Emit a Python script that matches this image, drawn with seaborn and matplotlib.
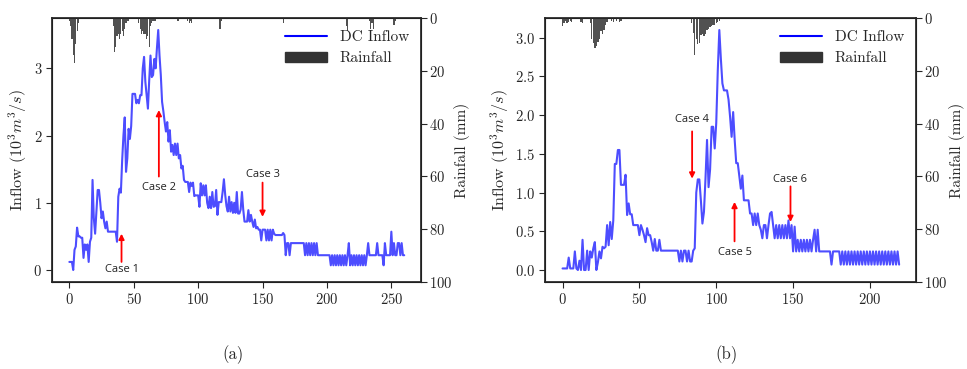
import numpy as np
import pandas as pd
import seaborn as sns
import matplotlib
matplotlib.use("Agg")
import matplotlib.pyplot as plt
from matplotlib.lines import Line2D
from matplotlib.patches import Patch

# ---------------- data ----------------
inflow_a = [
    0.12, 0.12, 0.12, 0.00, 0.30, 0.35, 0.63, 0.50, 0.50, 0.48,
    0.48, 0.18, 0.38, 0.30, 0.38, 0.12, 0.42, 0.48, 1.34, 0.77,
    0.54, 0.87, 1.19, 1.19, 1.00, 0.77, 0.87, 0.72, 0.62, 0.72,
    0.57, 0.57, 0.57, 0.57, 0.57, 0.57, 0.57, 0.42, 1.09, 1.21,
    1.15, 1.63, 2.00, 2.27, 1.46, 1.66, 2.10, 1.95, 2.14, 2.62,
    2.62, 2.62, 2.48, 2.53, 2.48, 2.60, 2.60, 3.00, 3.17, 2.80,
    2.60, 2.40, 2.82, 3.19, 2.87, 2.90, 3.14, 3.00, 3.30, 3.57,
    3.19, 2.90, 2.50, 2.36, 2.20, 2.06, 2.20, 1.91, 2.08, 1.76,
    1.86, 1.71, 1.88, 1.71, 1.88, 1.66, 1.71, 1.51, 1.55, 1.34,
    1.31, 1.31, 1.31, 1.16, 1.30, 1.25, 1.30, 1.10, 1.11, 1.11,
    1.11, 0.94, 1.29, 1.11, 1.26, 1.11, 1.26, 1.00, 0.92, 1.09,
    0.92, 1.16, 0.94, 0.95, 1.19, 0.82, 1.01, 1.01, 1.01, 1.16,
    1.35, 1.12, 0.95, 0.87, 1.09, 0.87, 1.01, 0.85, 1.00, 0.85,
    1.16, 0.84, 0.84, 0.90, 1.16, 0.90, 0.72, 0.72, 0.72, 0.89,
    0.72, 0.82, 0.72, 0.64, 0.75, 0.62, 0.64, 0.60, 0.60, 0.44,
    0.60, 0.60, 0.60, 0.44, 0.60, 0.44, 0.60, 0.44, 0.60, 0.54,
    0.52, 0.52, 0.52, 0.52, 0.52, 0.52, 0.55, 0.52, 0.22, 0.40,
    0.40, 0.22, 0.40, 0.40, 0.40, 0.40, 0.40, 0.40, 0.40, 0.40,
    0.40, 0.40, 0.40, 0.22, 0.40, 0.22, 0.40, 0.22, 0.40, 0.22,
    0.40, 0.22, 0.40, 0.22, 0.22, 0.22, 0.22, 0.22, 0.22, 0.22,
    0.22, 0.22, 0.22, 0.07, 0.22, 0.07, 0.22, 0.07, 0.22, 0.07,
    0.22, 0.07, 0.22, 0.07, 0.22, 0.07, 0.22, 0.40, 0.07, 0.22,
    0.07, 0.22, 0.07, 0.22, 0.07, 0.22, 0.07, 0.22, 0.07, 0.22,
    0.07, 0.22, 0.40, 0.22, 0.22, 0.22, 0.22, 0.22, 0.22, 0.40,
    0.22, 0.22, 0.22, 0.22, 0.07, 0.40, 0.22, 0.22, 0.22, 0.22,
    0.57, 0.22, 0.40, 0.22, 0.22, 0.40, 0.40, 0.22, 0.40, 0.22, 0.22,
]

inflow_b = [
    0.02, 0.02, 0.02, 0.02, 0.16, 0.02, 0.02, 0.02, 0.24, 0.02,
    0.00, 0.12, 0.00, 0.39, 0.00, 0.00, 0.25, 0.00, 0.24, 0.16,
    0.28, 0.36, 0.00, 0.10, 0.24, 0.15, 0.30, 0.28, 0.30, 0.58,
    0.32, 0.62, 0.40, 0.64, 1.37, 1.37, 1.55, 1.55, 1.10, 1.10,
    1.10, 1.23, 0.71, 0.86, 0.72, 0.72, 0.58, 0.58, 0.58, 0.58,
    0.45, 0.58, 0.52, 0.45, 0.36, 0.54, 0.45, 0.45, 0.36, 0.25,
    0.40, 0.25, 0.25, 0.39, 0.25, 0.25, 0.25, 0.25, 0.25, 0.25,
    0.25, 0.25, 0.25, 0.25, 0.25, 0.25, 0.11, 0.25, 0.11, 0.25,
    0.25, 0.11, 0.25, 0.11, 0.11, 0.25, 0.28, 1.00, 1.17, 1.17,
    0.90, 0.60, 0.75, 1.18, 1.68, 1.07, 1.30, 1.85, 1.85, 1.57,
    1.90, 2.58, 3.10, 2.73, 2.41, 2.32, 2.32, 2.32, 2.20, 1.98,
    1.72, 2.04, 1.68, 1.38, 1.38, 1.22, 1.05, 1.22, 0.90, 0.90,
    0.90, 0.90, 0.73, 0.73, 0.58, 0.73, 0.58, 0.73, 0.58, 0.52,
    0.41, 0.58, 0.58, 0.41, 0.58, 0.73, 0.75, 0.58, 0.41, 0.58,
    0.41, 0.58, 0.41, 0.58, 0.41, 0.58, 0.41, 0.64, 0.41, 0.58,
    0.24, 0.56, 0.24, 0.39, 0.24, 0.39, 0.24, 0.39, 0.24, 0.39,
    0.24, 0.39, 0.24, 0.39, 0.52, 0.24, 0.52, 0.24, 0.24, 0.24,
    0.24, 0.24, 0.24, 0.24, 0.24, 0.07, 0.24, 0.24, 0.24, 0.24,
    0.24, 0.07, 0.24, 0.07, 0.24, 0.07, 0.24, 0.07, 0.24, 0.07,
    0.24, 0.07, 0.24, 0.07, 0.24, 0.07, 0.24, 0.07, 0.24, 0.07,
    0.24, 0.07, 0.24, 0.07, 0.24, 0.07, 0.24, 0.07, 0.24, 0.07,
    0.24, 0.07, 0.24, 0.07, 0.24, 0.07, 0.24, 0.07, 0.24, 0.07,
]

rain_a_t = [0, 1, 2, 3, 4, 5, 6, 7,
            34, 35, 36, 37, 38, 39, 40, 41, 42, 43, 44, 45, 46,
            54, 55, 56, 57, 58, 59, 60, 61, 62, 63, 64, 65, 66, 67,
            84, 85, 92, 93, 94, 95, 117, 118, 166, 215, 216,
            233, 234, 235, 236, 252, 253]
rain_a_mm = [1, 3, 8, 14, 17, 10, 5, 2,
             3, 13, 11, 7, 6, 8, 6, 5, 7, 4, 2, 1, 1,
             2, 4, 6, 5, 6, 6, 8, 7, 11, 3, 2, 1, 1, 1,
             1, 1, 1, 2, 1, 2, 4, 1, 2, 3, 5,
             1, 4, 2, 4, 2.5, 1]

rain_b_t = [0, 1, 2, 3, 4, 5, 6, 12, 13,
            18, 19, 20, 21, 22, 23, 24, 25, 26, 27, 28, 29,
            32, 33, 35, 37, 38,
            84, 85, 86, 87, 88, 89, 90, 91, 92, 93, 94, 95, 96, 97, 98,
            99, 100, 101, 102]
rain_b_mm = [3, 2, 1, 2, 1.5, 1, 1.5, 1.5, 2,
             2, 8, 9.5, 11.5, 10.5, 9, 8, 5, 6, 4.5, 2.5, 1.5,
             1, 1.5, 1, 1.5, 1,
             2, 5.5, 14, 8, 10, 9.6, 6.5, 6, 7, 6, 4.5, 4, 3.5, 3, 2.5,
             2.5, 2, 1.5, 1]

yticks_a = [0, 1, 2, 3]
yticks_b = [0.0, 0.5, 1.0, 1.5, 2.0, 2.5, 3.0]
rain_ticks = [0, 20, 40, 60, 80, 100]

cases_a = ["Case 1", "Case 2", "Case 3"]
cases_b = ["Case 4", "Case 5", "Case 6"]
# (x, arrow head y, arrow tail y, text y)
case_pos_a = [(40.5, 0.54, 0.12, 0.01), (69.5, 2.38, 1.39, 1.22), (150, 0.79, 1.30, 1.42)]
case_pos_b = [(84.3, 1.18, 1.79, 1.95), (111.9, 0.88, 0.37, 0.22), (148.3, 0.62, 1.08, 1.17)]

# ---------------- style ----------------
sns.set_theme(style="ticks")
plt.rcParams["font.family"] = ["cmr10", "DejaVu Serif"]
plt.rcParams["mathtext.fontset"] = "cm"
plt.rcParams["axes.formatter.use_mathtext"] = True
plt.rcParams["axes.unicode_minus"] = False

fig = plt.figure(figsize=(9.67, 3.69), dpi=100)
ax_a = fig.add_axes([52 / 967, 1 - 282 / 369, (421 - 52) / 967, (282 - 18) / 369])
ax_b = fig.add_axes([545 / 967, 1 - 282 / 369, (916 - 545) / 967, (282 - 18) / 369])

line_color = "#4d4dff"
bar_color = "#333333"


def draw(ax, inflow, rain_t, rain_mm, yticks, cases, case_pos, caption):
    df = pd.DataFrame({"t": np.arange(len(inflow)), "q": inflow})
    sns.lineplot(data=df, x="t", y="q", ax=ax, color=line_color, lw=1.5, legend=False)
    ax.set_xlabel("")
    ax.set_yticks(yticks)
    ax.set_ylabel(r"Inflow ($10^3m^3/s$)", fontsize=11.5, labelpad=3)
    ax.tick_params(axis="both", labelsize=10.5, direction="out", length=4, width=0.8, pad=3)
    for s in ax.spines.values():
        s.set_color("black")
        s.set_linewidth(0.8)

    ax2 = ax.twinx()
    ax2.bar(rain_t, rain_mm, width=0.9, color=bar_color, alpha=0.85, linewidth=0)
    ax2.set_ylim(100, 0)
    ax2.set_yticks(rain_ticks)
    ax2.set_ylabel("Rainfall (mm)", fontsize=11, labelpad=1)
    ax2.tick_params(axis="y", labelsize=10.5, direction="out", length=4, width=0.8, pad=2)
    ax2.grid(False)

    for name, (x, yh, yt, ytx) in zip(cases, case_pos):
        ax.annotate("", xy=(x, yh), xytext=(x, yt),
                    arrowprops=dict(arrowstyle="-|>", color="red", lw=1.3,
                                    mutation_scale=8, shrinkA=0, shrinkB=0))
        ax.text(x, ytx, name, ha="center", va="center", fontsize=8,
                family=["Open Sans", "DejaVu Sans"], color="#222222")

    handles = [Line2D([0], [0], color="blue", lw=1.5), Patch(color=bar_color)]
    ax2.legend(handles, ["DC Inflow", "Rainfall"], loc="upper right", frameon=False,
               fontsize=11, handlelength=2.8, borderaxespad=0.4)

    pos = ax.get_position()
    fig.text((pos.x0 + pos.x1) / 2 - 0.004, 1 - 355 / 369, caption, ha="center",
             va="center", fontsize=12)


draw(ax_a, inflow_a, rain_a_t, rain_a_mm, yticks_a, cases_a, case_pos_a, "(a)")
draw(ax_b, inflow_b, rain_b_t, rain_b_mm, yticks_b, cases_b, case_pos_b, "(b)")

fig.savefig("out.png", dpi=100)
